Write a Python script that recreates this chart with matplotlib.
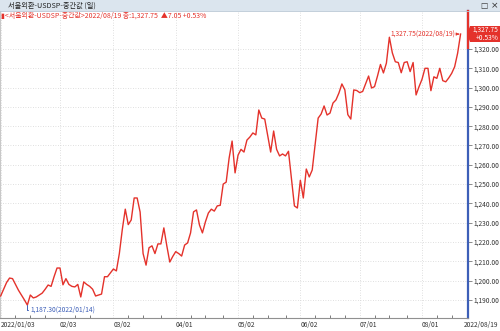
import matplotlib
matplotlib.use('Agg')
import matplotlib.pyplot as plt
from matplotlib.patches import Rectangle, Polygon
from matplotlib.lines import Line2D

plt.rcParams['font.family'] = ['Noto Sans CJK KR', 'DejaVu Sans']

# ---- data (trading-day index -> mid rate) ----
values = [
    1192, 1195.5, 1199, 1201.3, 1201, 1198, 1195, 1192.5, 1190, 1187.3,
    1192.5, 1191, 1191.5, 1192.5, 1193.5, 1195.5, 1197.7, 1197, 1202, 1206.5,
    1206.5, 1197.8, 1201, 1198, 1197, 1196.7, 1198, 1191.5, 1199.3, 1198,
    1197, 1195.5, 1192, 1192.5, 1193, 1202, 1202, 1204, 1206, 1205,
    1214, 1226.5, 1237, 1229, 1231.4, 1242.8, 1242.8, 1235.5, 1214, 1208,
    1217, 1218, 1214, 1219, 1219, 1227.3, 1218, 1209.6, 1212.5, 1215,
    1214, 1212.7, 1218.4, 1219.5, 1224.7, 1235.6, 1236.6, 1228.8, 1224.7, 1230.4,
    1235, 1237, 1236, 1238.7, 1239, 1250, 1251, 1263.5, 1272.3, 1255.8,
    1265, 1268, 1266.6, 1272.8, 1274.4, 1276.5, 1275.5, 1288.4, 1284.2, 1283.7,
    1275, 1266.6, 1277.5, 1268, 1264.6, 1265.6, 1264.6, 1267, 1253, 1238.7,
    1237.6, 1252, 1242.8, 1257.8, 1253.7, 1257.3, 1271, 1284.2, 1286.3, 1290.5,
    1285.8, 1286.8, 1292, 1293.6, 1297.2, 1301.9, 1298.8, 1286, 1283.7, 1298.8,
    1298.5, 1297.4, 1298, 1302, 1306, 1299.8, 1300.5, 1306, 1312, 1307.6,
    1312.7, 1326.1, 1318, 1313.4, 1313, 1307.7, 1313, 1313.4, 1308.3, 1313,
    1296.2, 1300.5, 1304.3, 1310, 1310, 1298.4, 1305.6, 1304.8, 1310, 1303.6,
    1303, 1305, 1307.4, 1310.8, 1317.8, 1327.75,
]
month_idx = [0, 20, 38, 59, 80, 101, 121, 142]
month_labels = ['2022/01/03', '02/03', '03/02', '04/01', '05/02', '06/02', '07/01', '08/01']
last_label = '2022/08/19'
y_ticks = list(range(1190, 1330, 10))
min_idx, min_label = 9, '1,187.30(2022/01/14)'
max_idx, max_label = 155, '1,327.75(2022/08/19)'
title = '서울외환-USDSP-중간값 (일)'
legend_text = '▮<서울외환-USDSP-중간값>2022/08/19 종:1,327.75  ▲7.05 +0.53%'
badge = ['1,327.75', '+0.53%']

W, H = 500, 331
fig = plt.figure(figsize=(W / 100, H / 100), dpi=100)
fig.patch.set_facecolor('white')

def fx(x):
    return x / W

def fy(y):
    return 1 - y / H

top_px, bot_px, right_px = 11, 318, 468
ax = fig.add_axes([0, fy(bot_px), fx(right_px), (bot_px - top_px) / H])

RED = '#e4322b'
BLUE = '#3d5fb8'
FS = 4.8
x = list(range(len(values)))
ax.plot(x, values, color=RED, lw=1.0, zorder=3)

ax.set_xlim(-0.22, 157.5)
ax.set_ylim(1180.6, 1339.7)

ax.yaxis.tick_right()
ax.set_yticks(y_ticks)
ax.set_yticklabels([f'{v:,.2f}' for v in y_ticks])
ax.tick_params(axis='y', direction='out', length=3, width=0.6, colors='#777',
               labelcolor='#333', labelsize=FS, pad=0.8)

ax.set_xticks(month_idx)
ax.set_xticklabels(month_labels, ha='left')
ax.tick_params(axis='x', direction='in', length=0, labelcolor='#333', labelsize=FS, pad=2)
minor = [5, 10, 15, 25, 30, 43, 48, 54, 64, 69, 75, 85, 90, 96, 106, 111, 116, 126, 131, 137, 147, 152]
ax.set_xticks(minor, minor=True)
ax.tick_params(axis='x', which='minor', direction='in', length=2, width=0.6, color='#666')

ax.grid(True, which='major', color='#d5d5d5', linestyle=(0, (1, 2)), linewidth=0.6)
ax.set_axisbelow(True)

ax.spines['top'].set_visible(False)
ax.spines['left'].set_color('#c8c8c8')
ax.spines['left'].set_linewidth(0.8)
ax.spines['bottom'].set_color('#909090')
ax.spines['bottom'].set_linewidth(0.8)
ax.spines['right'].set_color(BLUE)
ax.spines['right'].set_linewidth(1.6)

# red part of the right axis above the badge
fig.add_artist(Line2D([fx(468), fx(468)], [fy(top_px), fy(48)], color=RED, lw=1.6))

# header band
fig.add_artist(Rectangle((0, fy(11)), 1, 11 / H, transform=fig.transFigure,
                         facecolor='#dbe5ee', edgecolor='none', zorder=0))
fig.add_artist(Line2D([0, 1], [fy(11), fy(11)], color='#b9c7d4', lw=0.6))
fig.text(fx(8), fy(5.5), title, fontsize=5.2, color='#222', va='center', ha='left')
fig.text(fx(484), fy(5.5), '□', fontsize=5.5, color='#333', va='center', ha='center',
         family=['DejaVu Sans'])
fig.text(fx(495), fy(5.5), '×', fontsize=6.5, color='#333', va='center', ha='center',
         family=['DejaVu Sans'])

# legend line
fig.text(fx(1), fy(15.5), legend_text, fontsize=5.0, color=RED, va='center', ha='left')

# min annotation
ax.annotate(min_label, xy=(min_idx, values[min_idx]), xytext=(min_idx + 1.2, 1184.8),
            fontsize=FS, color=BLUE, va='center', ha='left',
            arrowprops=dict(arrowstyle='-', color=BLUE, lw=0.7,
                            connectionstyle='angle,angleA=0,angleB=90,rad=0',
                            shrinkA=0, shrinkB=0))

# max annotation
ax.annotate(max_label, xy=(max_idx, values[max_idx]), xytext=(max_idx - 1.6, values[max_idx]),
            fontsize=FS, color=RED, va='center', ha='right',
            arrowprops=dict(arrowstyle='-|>', color=RED, lw=0.6, mutation_scale=4,
                            shrinkA=0, shrinkB=1))

# price badge on the right axis
bx0, bx1, by0, by1 = 470, 500, 26, 42
fig.add_artist(Polygon([(fx(bx0 - 3), fy((by0 + by1) / 2)), (fx(bx0), fy(by0)), (fx(bx1), fy(by0)),
                        (fx(bx1), fy(by1)), (fx(bx0), fy(by1))], closed=True,
                       transform=fig.transFigure, facecolor=RED, edgecolor='none', zorder=5))
fig.text(fx(498.5), fy(30), badge[0], fontsize=FS, color='white', va='center', ha='right', zorder=6)
fig.text(fx(498.5), fy(38), badge[1], fontsize=FS, color='white', va='center', ha='right', zorder=6)

# last date label under the right axis
fig.text(fx(498.5), fy(325), last_label, fontsize=FS, color='#333', va='center', ha='right')

fig.savefig('out.png', dpi=100)
